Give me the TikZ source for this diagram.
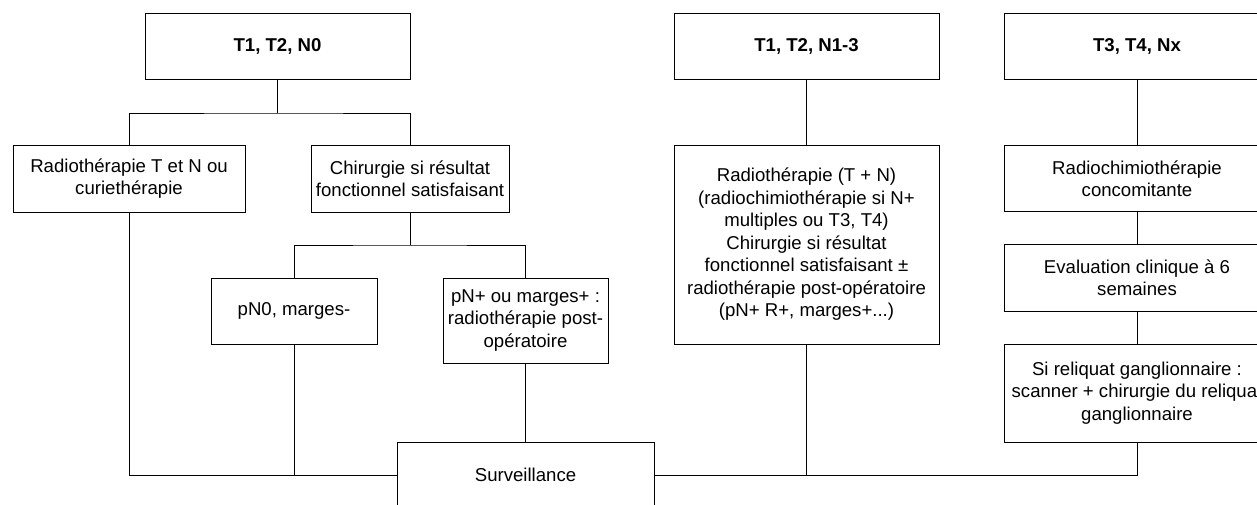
\documentclass[tikz,border=0pt]{standalone}
\usepackage{fontspec}
\setmainfont{Liberation Sans}
\begin{document}
\begin{tikzpicture}[x=1pt,y=-1pt,
  box/.style={draw=black, line width=1pt, fill=white, align=center, inner sep=0pt,
    font=\fontsize{18.6}{22.5}\selectfont},
  head/.style={box, font=\fontsize{18.6}{22.5}\selectfont\bfseries},
  link/.style={draw=black, line width=1pt}]
\useasboundingbox (0,0) rectangle (1257,504);
\clip (0,0) rectangle (1257,504);

% column headings
\node[head, minimum width=265pt, minimum height=66pt] (n0) at (277.5,46) {T1, T2, N0};
\node[head, minimum width=265pt, minimum height=66pt] (n1) at (806.5,46) {T1, T2, N1-3};
\node[head, minimum width=266pt, minimum height=66pt] (n2) at (1137,46) {T3, T4, Nx};

% first column
\node[box, minimum width=232pt, minimum height=67pt] (a) at (129,178.5) {Radiothérapie T et N ou\\curiethérapie};
\node[box, minimum width=198pt, minimum height=67pt] (b) at (410,178.5) {Chirurgie si résultat\\fonctionnel satisfaisant};
\node[box, minimum width=166pt, minimum height=66pt] (c) at (294,311) {pN0, marges-};
\node[box, minimum width=165pt, minimum height=85pt] (d) at (525.5,320.5) {pN+ ou marges+ :\\radiothérapie post-\\opératoire};
\node[box, minimum width=257pt, minimum height=66pt] (surv) at (525.5,475) {Surveillance};

% second column
\node[box, minimum width=265pt, minimum height=199pt] (big) at (806.5,244.5)
  {Radiothérapie (T + N)\\(radiochimiothérapie si N+\\multiples ou T3, T4)\\Chirurgie si résultat\\fonctionnel satisfaisant ±\\radiothérapie post-opératoire\\(pN+ R+, marges+...)};

% third column
\node[box, minimum width=266pt, minimum height=66pt] (r) at (1137,178.5) {Radiochimiothérapie\\concomitante};
\node[box, minimum width=266pt, minimum height=67pt] (e) at (1137,277.5) {Evaluation clinique à 6\\semaines};
\node[box, minimum width=266pt, minimum height=98pt] (s) at (1137,393) {Si reliquat ganglionnaire :\\scanner + chirurgie du reliquat\\ganglionnaire};

% junction points of the branches
\coordinate (j0) at (277.5,113);
\coordinate (j1) at (410,245);

% connectors
\draw[link] (n0.south) -- (j0);
\draw[link] (a.north) |- (j0) -| (b.north);
\draw[link] (b.south) -- (j1);
\draw[link] (c.north) |- (j1) -| (d.north);
\draw[link] (a.south) |- (surv.west);
\draw[link] (c.south) -- (c.south |- surv.west);
\draw[link] (d.south) -- (surv.north);
\draw[link] (n1.south) -- (big.north);
\draw[link] (s.south) |- (surv.east);
\draw[link] (big.south) -- (big.south |- surv.east);
\draw[link] (n2.south) -- (r.north);
\draw[link] (r.south) -- (e.north);
\draw[link] (e.south) -- (s.north);
\end{tikzpicture}
\end{document}
